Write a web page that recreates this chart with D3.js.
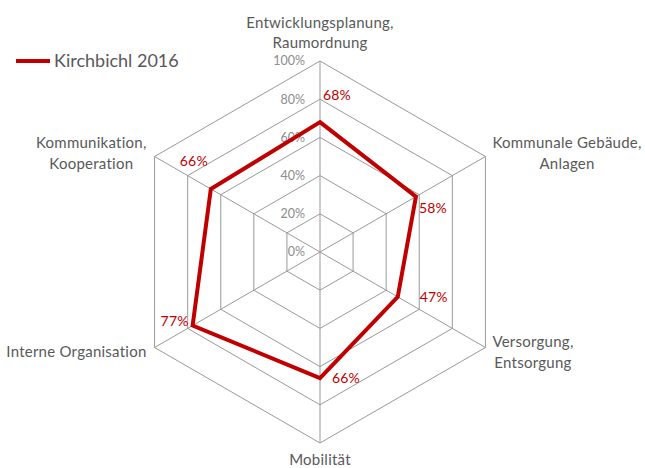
<!DOCTYPE html>
<html><head><meta charset="utf-8">
<script src="https://cdn.jsdelivr.net/npm/d3@7"></script>
<style>body{margin:0;background:#fff;} svg{display:block;}</style>
</head><body>
<svg id="chart" width="645" height="468"></svg>
<script>
const categories = [
  ["Entwicklungsplanung,", "Raumordnung"],
  ["Kommunale Gebäude,", "Anlagen"],
  ["Versorgung,", "Entsorgung"],
  ["Mobilität"],
  ["Interne Organisation"],
  ["Kommunikation,", "Kooperation"]
];
const values = [0.68, 0.58, 0.47, 0.66, 0.77, 0.66];
const seriesName = "Kirchbichl 2016";
const ticks = [0, 0.2, 0.4, 0.6, 0.8, 1.0];
// label offsets relative to the data point (style only)
const labelOffsets = [[17,-27],[17,11],[36,0],[26,0],[-18,-4],[-17,-28]];

const svg = d3.select("#chart");
const cx = 320, cy = 252, R = 191;
const n = categories.length;
const r = d3.scaleLinear().domain([0,1]).range([0,R]);
const ang = d3.scaleLinear().domain([0,n]).range([0, 2*Math.PI]);
const pt = (i, v) => [cx + r(v)*Math.sin(ang(i)), cy - r(v)*Math.cos(ang(i))];

const g = svg.append("g");
const gridColor = "#999999";
// rings
ticks.filter(t=>t>0).forEach(t=>{
  const pts = d3.range(n).map(i=>pt(i,t));
  g.append("path").attr("d", d3.line()(pts)+"Z")
    .attr("fill","none").attr("stroke",gridColor).attr("stroke-width",1);
});
// spokes
d3.range(n).forEach(i=>{
  const p = pt(i,1);
  g.append("line").attr("x1",cx).attr("y1",cy).attr("x2",p[0]).attr("y2",p[1])
    .attr("stroke",gridColor).attr("stroke-width",1);
});
// tick labels
const fmt = d3.format(".0%");
ticks.forEach(t=>{
  g.append("text").attr("x", cx-15).attr("y", cy - r(t)).attr("dy","0.35em")
    .attr("text-anchor","end").attr("font-family","Lato, 'Open Sans', sans-serif")
    .attr("font-size",12.5).attr("fill","#8c8c8c").text(fmt(t));
});
// series line
const radial = d3.lineRadial().angle((d,i)=>ang(i)).radius(d=>r(d)).curve(d3.curveLinearClosed);
g.append("path").attr("transform",`translate(${cx},${cy})`).attr("d", radial(values))
  .attr("fill","none").attr("stroke","#c00000").attr("stroke-width",4).attr("stroke-linejoin","miter");
// value labels
values.forEach((v,i)=>{
  const p = pt(i,v), o = labelOffsets[i];
  g.append("text").attr("x",p[0]+o[0]).attr("y",p[1]+o[1]).attr("dy","0.35em")
    .attr("text-anchor","middle").attr("font-family","Lato, 'Open Sans', sans-serif")
    .attr("font-size",14).attr("letter-spacing",0.2).attr("fill","#c00000").text(fmt(v));
});
// category labels
const catFont = "Lato, 'Open Sans', sans-serif", catSize = 15, lh = 20.5;
categories.forEach((lines,i)=>{
  const p = pt(i,1);
  const s = Math.sin(ang(i)), c = Math.cos(ang(i));
  const t = g.append("text").attr("font-family",catFont).attr("font-size",catSize)
    .attr("letter-spacing",0.25).attr("fill","#595959").attr("text-anchor","middle");
  const spans = lines.map(l=>t.append("tspan").text(l));
  const w = d3.max(spans, sp=>sp.node().getComputedTextLength());
  let x, yTop;
  const h = lines.length*lh;
  if (Math.abs(s) < 0.01) {
    x = p[0];
    yTop = c > 0 ? p[1] - 8 - h : p[1] + 6;
  } else {
    x = s > 0 ? p[0] + 7 + w/2 : p[0] - 8 - w/2;
    yTop = p[1] + (c > 0 ? -3.5 : 4.5) - h/2;
  }
  spans.forEach((sp,k)=>sp.attr("x",x).attr("y",yTop + lh*k + lh/2).attr("dy","0.35em"));
});
// legend
const lg = svg.append("g");
lg.append("line").attr("x1",16).attr("x2",50).attr("y1",61).attr("y2",61)
  .attr("stroke","#c00000").attr("stroke-width",4);
lg.append("text").attr("x",54).attr("y",61).attr("dy","0.35em")
  .attr("font-family",catFont).attr("font-size",18).attr("fill","#595959").text(seriesName);
</script>
</body></html>
